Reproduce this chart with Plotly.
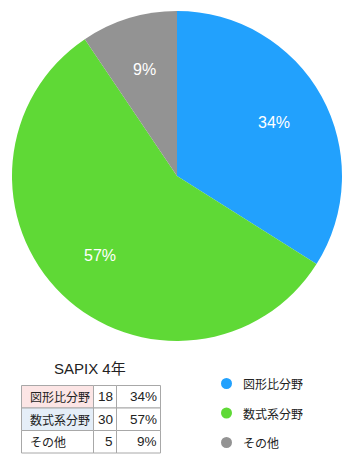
import math
import plotly.graph_objects as go

# ---- data ----
categories = ["図形比分野", "数式系分野", "その他"]
counts = [18, 30, 5]
pct_labels = ["34%", "57%", "9%"]
colors = ["#22a1fd", "#5fd936", "#939393"]
title_text = "SAPIX 4年"
row_fills = ["#fce5e5", "#e5eef8", "#ffffff"]

W, H = 354, 474
CJK = "Noto Sans CJK JP, sans-serif"
LAT = "Liberation Sans, Arial, Noto Sans CJK JP, sans-serif"

def px(x):
    return x / W

def py(y):
    return 1 - y / H

fig = go.Figure()

# pie: center (177,176), radius 165
cx, cy, r = 177, 176, 165
fig.add_trace(go.Pie(
    labels=categories,
    values=counts,
    sort=False,
    direction="clockwise",
    rotation=0,
    marker=dict(colors=colors, line=dict(width=0)),
    textinfo="none",
    hoverinfo="label+value+percent",
    showlegend=False,
    domain=dict(x=[px(cx - r), px(cx + r)], y=[py(cy + r), py(cy - r)]),
))

shapes = []
annotations = []

# slice labels placed at 0.67 r along the mid angle of each slice
total = sum(counts)
start = 0.0
for i, v in enumerate(counts):
    frac = v / total
    mid = (start + frac / 2) * 2 * math.pi
    start += frac
    lr = 0.672 * r
    lx = cx + lr * math.sin(mid)
    ly = cy - lr * math.cos(mid)
    annotations.append(dict(
        x=px(lx), y=py(ly), xref="paper", yref="paper",
        text=f"{round(frac * 100)}%", showarrow=False,
        xanchor="center", yanchor="middle",
        font=dict(size=16, color="white", family=LAT)))

# title
annotations.append(dict(
    x=px(90), y=py(368), xref="paper", yref="paper", text=title_text,
    showarrow=False, xanchor="center", yanchor="middle",
    font=dict(size=15, color="#222", family=LAT)))

# table
col_x = [21.5, 93.5, 116.5, 160.5]
row_y = [385.5, 408, 430.5, 453]
border = "#a8a8a8"
for i, cat in enumerate(categories):
    y0, y1 = row_y[i], row_y[i + 1]
    cells = [cat, str(counts[i]), pct_labels[i]]
    for j in range(3):
        x0, x1 = col_x[j], col_x[j + 1]
        shapes.append(dict(
            type="rect", xref="paper", yref="paper",
            x0=px(x0), x1=px(x1), y0=py(y1), y1=py(y0),
            fillcolor=row_fills[i] if j == 0 else "#ffffff",
            line=dict(color=border, width=1), layer="below"))
        if j == 0:
            annotations.append(dict(
                x=px(x0 + 6), y=py((y0 + y1) / 2), xref="paper", yref="paper",
                text=cells[j], showarrow=False, xanchor="left", yanchor="middle",
                font=dict(size=12, color="#222", family=CJK)))
        else:
            annotations.append(dict(
                x=px(x1 - 2), y=py((y0 + y1) / 2), xref="paper", yref="paper",
                text=cells[j], showarrow=False, xanchor="right", yanchor="middle",
                font=dict(size=13.5, color="#222", family=LAT)))

# legend
leg_y = [383.5, 413, 442.5]
for i, cat in enumerate(categories):
    mr = 5.5
    mx, my = 226.5, leg_y[i]
    shapes.append(dict(
        type="circle", xref="paper", yref="paper",
        x0=px(mx - mr), x1=px(mx + mr), y0=py(my + mr), y1=py(my - mr),
        fillcolor=colors[i], line=dict(width=0)))
    annotations.append(dict(
        x=px(240.5), y=py(my), xref="paper", yref="paper", text=cat,
        showarrow=False, xanchor="left", yanchor="middle",
        font=dict(size=12, color="#222", family=CJK)))

fig.update_layout(
    width=W, height=H,
    margin=dict(l=0, r=0, t=0, b=0),
    paper_bgcolor="white", plot_bgcolor="white",
    shapes=shapes, annotations=annotations,
    font=dict(family=CJK),
)

fig.write_html("out.html")
